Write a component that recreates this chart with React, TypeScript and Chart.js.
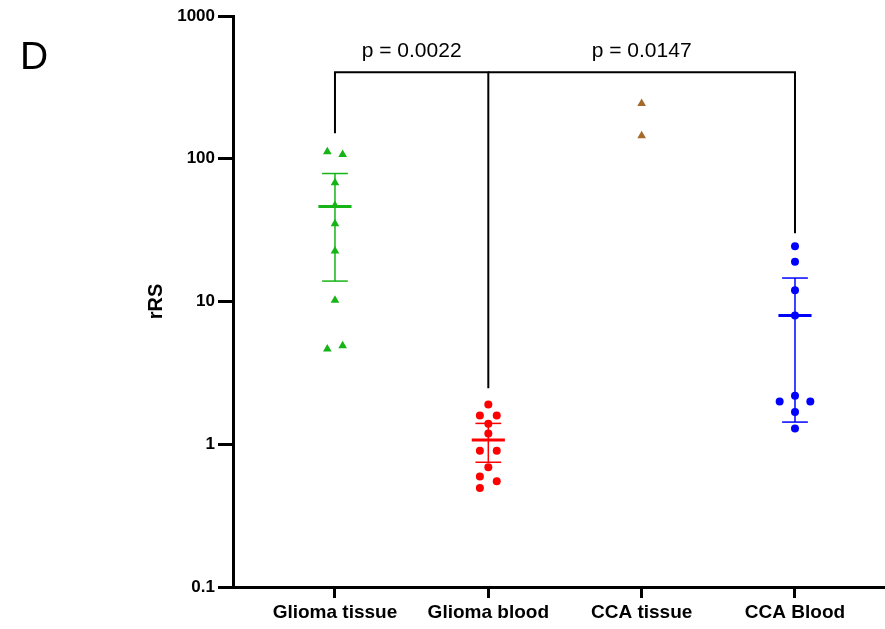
import React, { useEffect, useRef } from 'react';
import { Chart, registerables } from 'chart.js';

Chart.register(...registerables);

const categories = ['Glioma tissue', 'Glioma blood', 'CCA tissue', 'CCA Blood'];
const yTicks = [0.1, 1, 10, 100, 1000];

// points: offsets from category centre (category units) and values
const gliomaTissueX = [-0.05, 0.05, 0, 0, 0, 0, 0, -0.05, 0.05];
const gliomaTissueY = [112, 107, 68, 47, 35, 22.6, 10.2, 4.65, 4.9];

const gliomaBloodX = [0, -0.055, 0.055, 0, 0, -0.055, 0.055, 0, -0.055, 0.055, -0.055];
const gliomaBloodY = [1.9, 1.59, 1.59, 1.39, 1.19, 0.9, 0.9, 0.69, 0.594, 0.55, 0.494];

const ccaTissueX = [0, 0];
const ccaTissueY = [244, 145];

const ccaBloodX = [0, 0, 0, 0, 0, -0.1, 0.1, 0, 0];
const ccaBloodY = [24.4, 19.0, 12.0, 7.97, 2.19, 1.99, 1.99, 1.68, 1.29];

// summary (mean and SD bounds) per category; null = none
const means = [46.2, 1.07, null, 7.97];
const sdHigh = [78.8, 1.4, null, 14.6];
const sdLow = [13.9, 0.748, null, 1.43];

const groupColors = ['#16b416', '#ff0000', '#a5692a', '#0000ff'];

// significance brackets
const bracket1X = [0, 0, 1, 1];
const bracket1Y = [151, 403, 403, 2.47];
const bracket2X = [1, 3, 3];
const bracket2Y = [403, 403, 30.1];
const pLabels = ['p = 0.0022', 'p = 0.0147'];
const pLabelX = [0.5, 2];
const pLabelY = [566, 566];

const FONT = '"Liberation Sans", Arial, sans-serif';

export default function App() {
  const ref = useRef<HTMLCanvasElement | null>(null);

  useEffect(() => {
    if (!ref.current) return;
    const pts = (xs: number[], ys: number[], c: number) =>
      xs.map((dx, i) => ({ x: c + dx, y: ys[i] }));

    const lineDs = (data: { x: number; y: number }[], color: string, width: number) => ({
      type: 'scatter' as const,
      data,
      showLine: true,
      borderColor: color,
      borderWidth: width,
      pointRadius: 0,
      pointHoverRadius: 0,
      fill: false,
    });

    const datasets: any[] = [];
    // error bars
    means.forEach((m, i) => {
      if (m === null) return;
      const c = groupColors[i];
      const lo = sdLow[i] as number;
      const hi = sdHigh[i] as number;
      datasets.push(lineDs([{ x: i - 0.108, y: m }, { x: i + 0.108, y: m }], c, 3));
      datasets.push(lineDs([{ x: i, y: lo }, { x: i, y: hi }], c, 1.5));
      datasets.push(lineDs([{ x: i - 0.084, y: hi }, { x: i + 0.084, y: hi }], c, 1.5));
      datasets.push(lineDs([{ x: i - 0.084, y: lo }, { x: i + 0.084, y: lo }], c, 1.5));
    });
    // brackets
    datasets.push(lineDs(bracket1X.map((x, i) => ({ x, y: bracket1Y[i] })), '#000', 2));
    datasets.push(lineDs(bracket2X.map((x, i) => ({ x, y: bracket2Y[i] })), '#000', 2));

    const pointDs = (data: any[], color: string, style: string, r: number) => ({
      type: 'scatter' as const,
      data,
      pointStyle: style,
      pointRadius: r,
      pointHoverRadius: r,
      backgroundColor: color,
      borderColor: color,
      borderWidth: 0,
      showLine: false,
    });
    datasets.push(pointDs(pts(gliomaTissueX, gliomaTissueY, 0), groupColors[0], 'triangle', 5));
    datasets.push(pointDs(pts(gliomaBloodX, gliomaBloodY, 1), groupColors[1], 'circle', 4));
    datasets.push(pointDs(pts(ccaTissueX, ccaTissueY, 2), groupColors[2], 'triangle', 5));
    datasets.push(pointDs(pts(ccaBloodX, ccaBloodY, 3), groupColors[3], 'circle', 4));

    const stretchPlugin = {
      id: 'stretchX',
      afterLayout(chart: any) {
        const w = chart.width;
        const x = chart.scales.x;
        x.right = w;
        x.width = x.right - x.left;
        chart.chartArea.right = w;
        chart.chartArea.width = w - chart.chartArea.left;
        x.configure();
      },
    };

    const textPlugin = {
      id: 'texts',
      afterDraw(chart: any) {
        const ctx = chart.ctx;
        const xs = chart.scales.x;
        const ys = chart.scales.y;
        ctx.save();
        ctx.fillStyle = '#000';
        ctx.textAlign = 'center';
        ctx.textBaseline = 'middle';
        ctx.font = `21px ${FONT}`;
        pLabels.forEach((t, i) => {
          ctx.fillText(t, xs.getPixelForValue(pLabelX[i]), ys.getPixelForValue(pLabelY[i]));
        });
        ctx.textBaseline = 'alphabetic';
        ctx.font = `39px ${FONT}`;
        ctx.fillText('D', 34, 69);
        ctx.textBaseline = 'middle';
        ctx.font = `bold 20px ${FONT}`;
        ctx.translate(156, (ys.top + ys.bottom) / 2);
        ctx.rotate(-Math.PI / 2);
        ctx.fillText('rRS', 0, 0);
        ctx.restore();
      },
    };

    const chart = new Chart(ref.current, {
      type: 'scatter',
      data: { datasets },
      plugins: [stretchPlugin, textPlugin],
      options: {
        animation: false,
        responsive: false,
        maintainAspectRatio: false,
        devicePixelRatio: 1,
        layout: { padding: { top: 16, right: 0, left: 0, bottom: 0 } },
        plugins: { legend: { display: false }, tooltip: { enabled: false } },
        scales: {
          x: {
            type: 'linear',
            min: -0.665,
            max: 3.587,
            afterBuildTicks: (s: any) => {
              s.ticks = categories.map((_, i) => ({ value: i }));
            },
            afterFit: (s: any) => {
              s.height = 42;
              s.paddingLeft = 0;
              s.paddingRight = 0;
            },
            ticks: {
              autoSkip: false,
              maxRotation: 0,
              color: '#000',
              padding: 3,
              font: { family: FONT, size: 19, weight: 'bold' },
              callback: (v: any) => categories[v as number] ?? '',
            },
            grid: { drawOnChartArea: false, drawTicks: true, tickLength: 11, color: '#000', lineWidth: 3 },
            border: { display: true, color: '#000', width: 3 },
          },
          y: {
            type: 'logarithmic',
            min: 0.1,
            max: 1000,
            afterBuildTicks: (s: any) => {
              s.ticks = yTicks.map((v) => ({ value: v, major: true }));
            },
            afterFit: (s: any) => {
              s.width = 233;
            },
            ticks: {
              color: '#000',
              padding: 3,
              font: { family: FONT, size: 17, weight: 'bold' },
              callback: (v: any) => String(v),
            },
            grid: { drawOnChartArea: false, drawTicks: true, tickLength: 15, color: '#000', lineWidth: 3 },
            border: { display: true, color: '#000', width: 3 },
          },
        },
      },
    });
    return () => chart.destroy();
  }, []);

  return (
    <div style={{ position: 'absolute', left: 0, top: 0, width: 885, height: 629, overflow: 'hidden' }}>
      <canvas ref={ref} width={885} height={629} style={{ display: 'block' }} />
    </div>
  );
}
